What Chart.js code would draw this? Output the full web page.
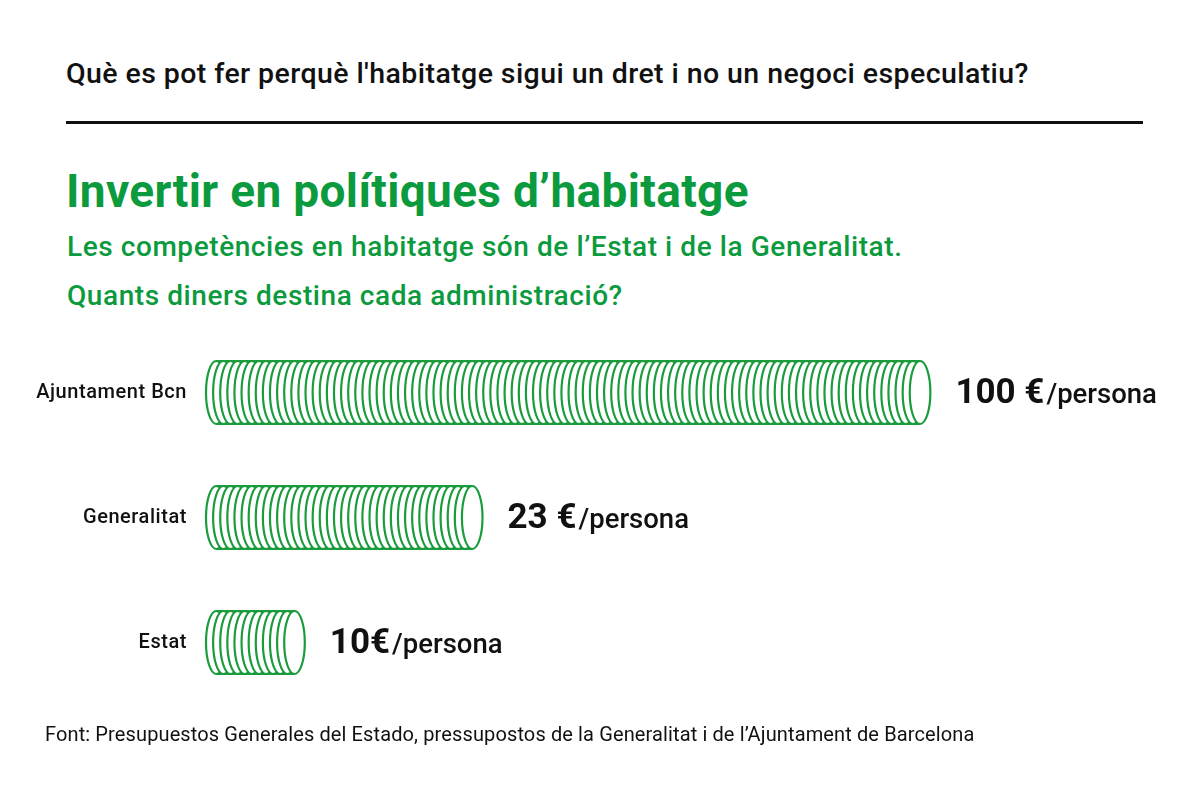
<!DOCTYPE html>
<html>
<head>
<meta charset="utf-8">
<script src="https://cdn.jsdelivr.net/npm/chart.js@4"></script>
<style>
  html, body { margin:0; padding:0; background:#fff; }
  body { width:1200px; height:789px; position:relative; overflow:hidden; font-family: Roboto, "Noto Sans", sans-serif; }
  .t { position:absolute; white-space:nowrap; line-height:1; }
  #q { left:66px; top:60px; font-size:28.5px; font-weight:500; color:#111; letter-spacing:0.42px; }
  #rule { position:absolute; left:66px; top:121px; width:1077px; height:3px; background:#111; }
  #h1 { left:66px; top:168px; font-size:46px; font-weight:700; color:#0c9a3e; letter-spacing:0.35px; }
  #s1 { left:67px; top:233px; font-size:28px; font-weight:500; color:#0c9a3e; letter-spacing:0.57px; }
  #s2 { left:67px; top:282px; font-size:28px; font-weight:500; color:#0c9a3e; letter-spacing:0.57px; }
  #src { left:45px; top:724px; font-size:20px; font-weight:400; color:#111; letter-spacing:0.12px; }
  canvas { position:absolute; left:0; top:0; }
</style>
</head>
<body>
<div class="t" id="q">Què es pot fer perquè l'habitatge sigui un dret i no un negoci especulatiu?</div>
<div id="rule"></div>
<div class="t" id="h1">Invertir en polítiques d’habitatge</div>
<div class="t" id="s1">Les competències en habitatge són de l’Estat i de la Generalitat.</div>
<div class="t" id="s2">Quants diners destina cada administració?</div>
<canvas id="c" width="1200" height="789" style="width:1200px;height:789px"></canvas>
<div class="t" id="src">Font: Presupuestos Generales del Estado, pressupostos de la Generalitat i de l’Ajuntament de Barcelona</div>
<script>
const categories = ['Ajuntament Bcn', 'Generalitat', 'Estat'];
const eurosPerPerson = [100, 23, 10];
const coinCount = [100, 37, 12];
const valueLabels = ['100 €', '23 €', '10€'];
const unitLabel = '/persona';

const GREEN = '#1a9b3c';

const spacingPlugin = {
  id: 'tickSpacing',
  beforeDraw(chart) { chart.ctx.letterSpacing = '0.55px'; }
};

const coinPlugin = {
  id: 'coinStacks',
  afterDatasetsDraw(chart) {
    const ctx = chart.ctx;
    const meta = chart.getDatasetMeta(0);
    const xs = chart.scales.x;
    const pitch = xs.getPixelForValue(1) - xs.getPixelForValue(0);
    const w = pitch * 2.9;
    const rx = w / 2;
    meta.data.forEach((bar, i) => {
      const n = coinCount[i];
      const ry = bar.height / 2;
      const cy = bar.y;
      ctx.save();
      ctx.letterSpacing = '0px';
      ctx.lineWidth = 2.2;
      ctx.strokeStyle = GREEN;
      ctx.fillStyle = '#fff';
      for (let k = 0; k < n; k++) {
        const cx = xs.getPixelForValue(k) + rx;
        ctx.beginPath();
        ctx.ellipse(cx, cy, rx, ry, 0, 0, Math.PI * 2);
        ctx.fill();
        ctx.stroke();
      }
      const x0 = xs.getPixelForValue(0) + rx;
      const x1 = xs.getPixelForValue(n - 1) + rx;
      ctx.beginPath();
      ctx.moveTo(x0, cy - ry); ctx.lineTo(x1, cy - ry);
      ctx.moveTo(x0, cy + ry); ctx.lineTo(x1, cy + ry);
      ctx.stroke();
      // value label
      const lx = xs.getPixelForValue(n - 1) + w + 25;
      const by = cy + 10;
      ctx.textBaseline = 'alphabetic';
      ctx.textAlign = 'left';
      ctx.fillStyle = '#111';
      ctx.font = '700 35px Roboto';
      ctx.fillText(valueLabels[i], lx, by);
      const vw = ctx.measureText(valueLabels[i]).width;
      ctx.font = '500 27.5px Roboto';
      ctx.fillText(unitLabel, lx + vw + 2, by);
      ctx.restore();
    });
  }
};

new Chart(document.getElementById('c'), {
  type: 'bar',
  data: {
    labels: categories,
    datasets: [{
      label: '€/persona',
      data: coinCount,
      backgroundColor: 'rgba(0,0,0,0)',
      borderWidth: 0,
      barPercentage: 1,
      categoryPercentage: 0.504
    }]
  },
  options: {
    indexAxis: 'y',
    responsive: false,
    animation: false,
    devicePixelRatio: 1,
    layout: { padding: { top: 330, bottom: 84, left: 0, right: 13 } },
    plugins: { legend: { display: false }, tooltip: { enabled: false }, title: { display: false } },
    scales: {
      x: { display: false, min: 0, max: 138 },
      y: {
        grid: { display: false },
        border: { display: false },
        ticks: { color: '#111', font: { family: 'Roboto', size: 20, weight: '500' }, padding: 11 },
        afterFit(scale) { scale.width = 206; }
      }
    }
  },
  plugins: [spacingPlugin, coinPlugin]
});
</script>
</body>
</html>
